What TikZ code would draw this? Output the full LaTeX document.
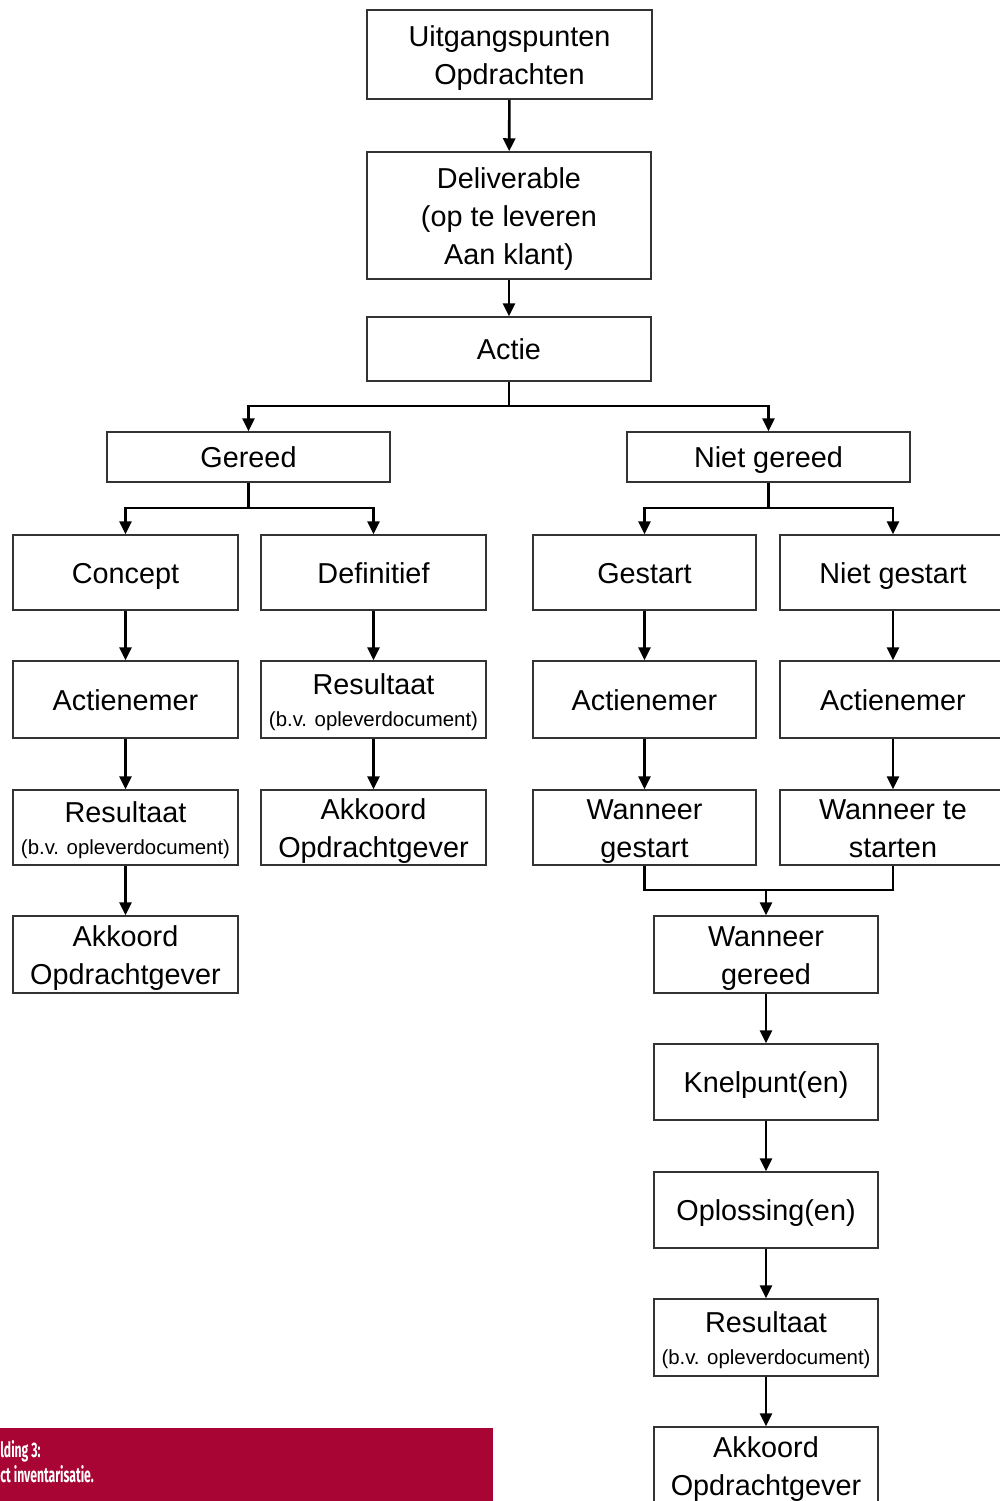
\documentclass[tikz,border=0pt]{standalone}
\usepackage{fontspec}
\setmainfont{Liberation Sans}
\newfontfamily\capfont{Fira Sans}
\usetikzlibrary{arrows.meta}
\definecolor{capred}{HTML}{A80434}
\newcommand{\bstrut}{\rule[-5.7pt]{0pt}{16.5pt}}
\tikzset{
  box/.style={draw=black!80, line width=0.75pt, inner sep=0pt},
  boxtext/.style={inner sep=0pt, font=\fontsize{14.4}{19}\selectfont},
  conn/.style={line width=1.3pt, black},
  arr/.style={conn, -{Triangle[width=6pt,length=6.5pt]}}
}
\newcommand{\bx}[6]{%
  \node[box, minimum width={(#4-#2)*0.5pt}, minimum height={(#5-#3)*0.5pt}]
    (#1) at ({(#2+#4)/2},{(#3+#5)/2}) {};
  \node[boxtext] (#1t) at ([yshift=-1.5pt]#1.center)
    {\begin{tabular}{@{}c@{}}\bstrut #6\bstrut\end{tabular}};}
\newcommand{\smalltxt}[1]{{\fontsize{10.2}{12}\selectfont #1}}
\begin{document}
\begin{tikzpicture}[x=0.5pt,y=-0.5pt]
\useasboundingbox (0,0) rectangle (1000,1501);
\clip (0,0) rectangle (1000,1501);
% top column
\bx{uit}{367}{10}{652}{99}{Uitgangspunten\\Opdrachten}
\bx{del}{367}{152}{651}{279}{Deliverable\\(op te leveren\\Aan klant)}
\bx{act}{367}{317}{651}{381}{Actie}
\bx{ger}{107}{432}{390}{482}{Gereed}
\bx{nger}{627}{432}{910}{482}{Niet gereed}
% row 1
\bx{con}{13}{535}{238}{610}{Concept}
\bx{def}{261}{535}{486}{610}{Definitief}
\bx{gst}{533}{535}{756}{610}{Gestart}
\bx{ngst}{780}{535}{1006}{610}{Niet gestart}
% row 2
\bx{an1}{13}{661}{238}{738}{Actienemer}
\bx{res2}{261}{661}{486}{738}{Resultaat\\[-3pt]\smalltxt{(b.v. opleverdocument)}}
\bx{an3}{533}{661}{756}{738}{Actienemer}
\bx{an4}{780}{661}{1006}{738}{Actienemer}
% row 3
\bx{res1}{13}{790}{238}{865}{Resultaat\\[-3pt]\smalltxt{(b.v. opleverdocument)}}
\bx{ak2}{261}{790}{486}{865}{Akkoord\\Opdrachtgever}
\bx{wg}{533}{790}{756}{865}{Wanneer\\gestart}
\bx{wts}{780}{790}{1006}{865}{Wanneer te\\starten}
% row 4
\bx{ak1}{13}{916}{238}{993}{Akkoord\\Opdrachtgever}
\bx{wger}{654}{916}{878}{993}{Wanneer\\gereed}
\bx{kn}{654}{1044}{878}{1120}{Knelpunt(en)}
\bx{opl}{654}{1172}{878}{1248}{Oplossing(en)}
\bx{res3}{654}{1299}{878}{1376}{Resultaat\\[-3pt]\smalltxt{(b.v. opleverdocument)}}
\bx{ak3}{654}{1427}{878}{1504}{Akkoord\\Opdrachtgever}
% connectors
\draw[arr] (uit) -- (del);
\draw[arr] (del) -- (act);
\coordinate (j1) at (509,406);
\draw[conn] (act.south) -- (j1);
\draw[arr] (j1) -| (ger.north);
\draw[arr] (j1) -| (nger.north);
\coordinate (j2) at (248.5,508);
\draw[conn] (ger.south) -- (j2);
\draw[arr] (j2) -| (con.north);
\draw[arr] (j2) -| (def.north);
\coordinate (j3) at (768.5,508);
\draw[conn] (nger.south) -- (j3);
\draw[arr] (j3) -| (gst.north);
\draw[arr] (j3) -| (ngst.north);
\draw[arr] (con) -- (an1);
\draw[arr] (an1) -- (res1);
\draw[arr] (res1) -- (ak1);
\draw[arr] (def) -- (res2);
\draw[arr] (res2) -- (ak2);
\draw[arr] (gst) -- (an3);
\draw[arr] (an3) -- (wg);
\draw[arr] (ngst) -- (an4);
\draw[arr] (an4) -- (wts);
\coordinate (j4) at (766,890);
\draw[conn] (wg.south) |- (j4) -| (wts.south);
\draw[arr] (j4) -- (wger.north);
\draw[arr] (wger) -- (kn);
\draw[arr] (kn) -- (opl);
\draw[arr] (opl) -- (res3);
\draw[arr] (res3) -- (ak3);
% caption
\fill[capred] (0,1428) rectangle (493,1501);
\node[anchor=base west, inner sep=0pt, text=white, font=\capfont\bfseries\fontsize{10.5}{12}\selectfont] (cap1) at (0,1457) {\scalebox{0.58}[1]{lding 3:}};
\node[anchor=base west, inner sep=0pt, text=white, font=\capfont\bfseries\fontsize{10.5}{12}\selectfont] (cap2) at (0,1482) {\scalebox{0.58}[1]{ct inventarisatie.}};
\end{tikzpicture}
\end{document}
